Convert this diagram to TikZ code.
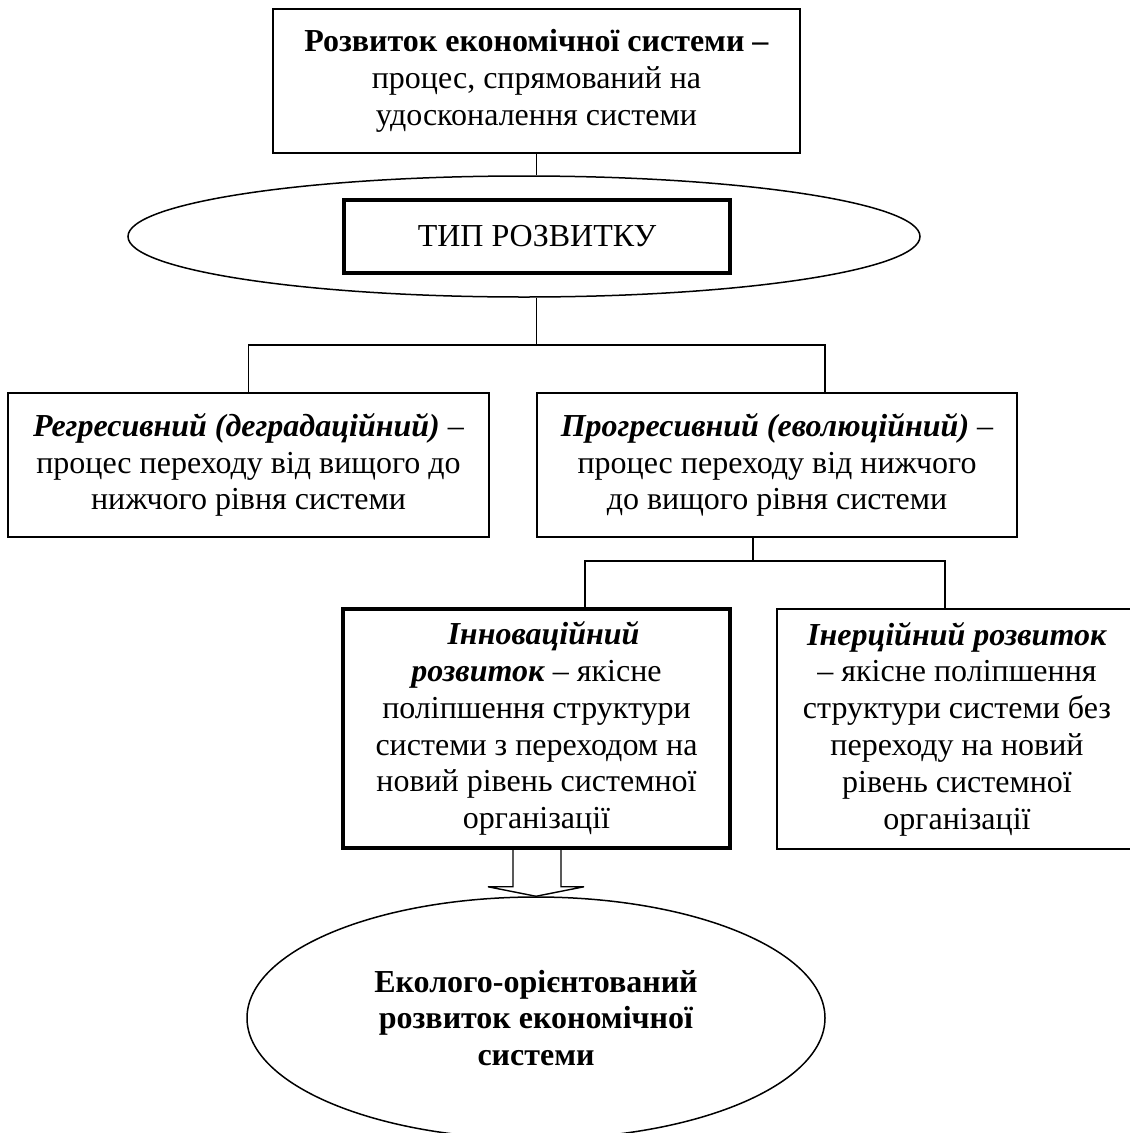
\documentclass[tikz,border=0pt]{standalone}
\usepackage{fontspec}
\setmainfont{Liberation Serif}
\usetikzlibrary{shapes.geometric,calc}
\begin{document}
\begin{tikzpicture}[x=1pt,y=-1pt,
  txt/.style={font=\fontsize{32}{36.8}\selectfont, align=center, inner sep=0pt},
  box/.style={txt, draw, rectangle, line width=1.8pt},
  thickbox/.style={box, line width=3.5pt},
  oval/.style={txt, draw, ellipse, line width=1.5pt},
  link/.style={line width=1.4pt},
]
\useasboundingbox (0,0) rectangle (1130,1133);

% top definition box
\node[box, minimum width=527pt, minimum height=144pt] (top) at (536.5,81)
  {\textbf{Розвиток економічної системи –}\\процес, спрямований на\\удосконалення системи};

% type-of-development oval with framed label
\node[oval, minimum width=792pt, minimum height=121pt] (ell) at (524,236.5) {};
\node[thickbox, minimum width=386pt, minimum height=73pt] (type) at (537,236.5) {ТИП РОЗВИТКУ};

% two types
\node[box, minimum width=481pt, minimum height=144pt] (left) at (248.5,465)
  {\textbf{\textit{Регресивний (деградаційний)}} –\\процес переходу від вищого до\\нижчого рівня системи};
\node[box, minimum width=480pt, minimum height=144pt] (right) at (777,465)
  {\textbf{\textit{Прогресивний (еволюційний)}} –\\процес переходу від нижчого\\до вищого рівня системи};

% two kinds of progressive development
\node[thickbox, minimum width=387pt, minimum height=239pt] (innov) at (536.5,728.5)
  {\hspace*{14pt}\textbf{\textit{Інноваційний}}\\\textbf{\textit{розвиток}} – якісне\\поліпшення структури\\системи з переходом на\\новий рівень системної\\організації};
\node[box, minimum width=360pt, minimum height=240pt] (inert) at (957,729)
  {\textbf{\textit{Інерційний розвиток}}\\– якісне поліпшення\\структури системи без\\переходу на новий\\рівень системної\\організації};

% result oval
\node[oval, minimum width=578pt, minimum height=242pt] (eco) at (536,1018)
  {\textbf{Еколого-орієнтований}\\\textbf{розвиток економічної}\\\textbf{системи}};

% connectors
\coordinate (j1) at (536.5,345);
\coordinate (jr) at (825,345);
\draw[link] (top.south) -- (top.south |- ell.north);
\draw[link] (top.south |- ell.south) -- (j1);
\draw[link] (left.north) |- (jr) -- (jr |- right.north);

\coordinate (k) at (753,561);
\coordinate (kl) at (585,561);
\coordinate (kr) at (945,561);
\draw[link] (right.south -| k) -- (k);
\draw[link] (kl |- innov.north) -- (kl) -- (kr) -- (kr |- inert.north);

% hollow block arrow down to the result
\draw[link, line join=miter]
  ($(innov.south)+(-23.5,0)$) -- ++(0,37) -- ++(-25,0) -- (eco.north)
  -- ($(innov.south)+(47.5,37)$) -- ++(-23,0) -- ($(innov.south)+(24.5,0)$);
\end{tikzpicture}
\end{document}
